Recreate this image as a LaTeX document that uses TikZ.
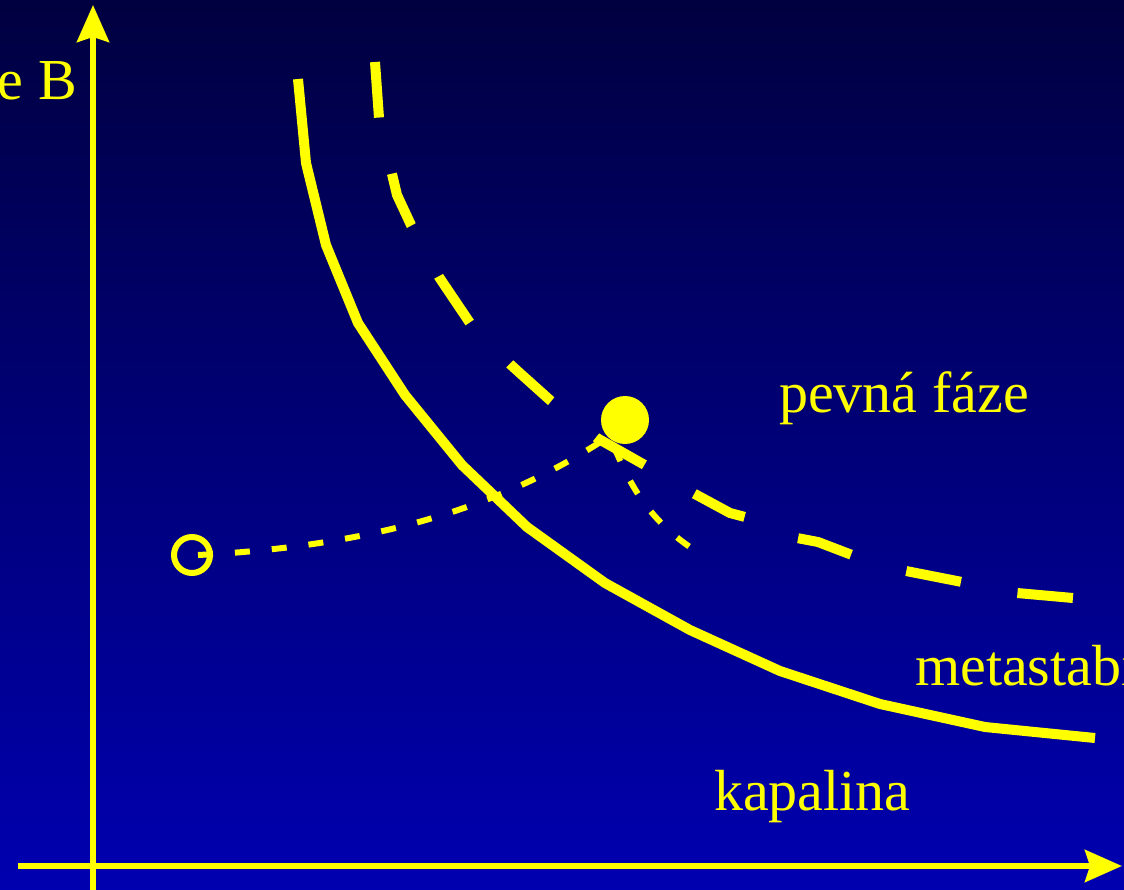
\documentclass[tikz,border=0pt]{standalone}
\usepackage{fontspec}
\setmainfont{Liberation Serif}
\usetikzlibrary{arrows.meta}
\definecolor{topblue}{RGB}{0,0,64}
\definecolor{botblue}{RGB}{0,0,176}
\definecolor{yel}{RGB}{255,255,0}
\begin{document}
\begin{tikzpicture}[x=1pt,y=-1pt,
  lbl/.style={text=yel,font=\fontsize{58}{68}\selectfont,inner sep=0pt},
  axisline/.style={draw=yel,line width=6pt,-{Stealth[length=37pt,width=32pt,inset=5pt]}},
  solidcurve/.style={draw=yel,line width=10pt},
  dashcurve/.style={draw=yel,line width=10pt,dash pattern=on 55.7pt off 57.6pt},
  dotcurve/.style={draw=yel,line width=6pt,dash pattern=on 15pt off 22pt}]
\useasboundingbox (0,0) rectangle (1124,890);
\clip (0,0) rectangle (1124,890);
\shade[top color=topblue,bottom color=botblue] (0,0) rectangle (1124,890);
% axes
\coordinate (yb) at (93,890);
\coordinate (yt) at (93,5);
\coordinate (xl) at (18,866);
\coordinate (xr) at (1122,866);
\draw[axisline] (yb) -- (yt);
\draw[axisline] (xl) -- (xr);
% labels
\node[lbl,anchor=base east] (lb) at (77,100) {e B};
\node[lbl,anchor=base west] (lp) at (779,412) {pevná fáze};
\node[lbl,anchor=base west] (lm) at (915,685) {metastabilní};
\node[lbl,anchor=base west] (lk) at (714,810) {kapalina};
% solid curve
\draw[solidcurve] (298,79) -- (306,163) -- (326,245) -- (358,323) -- (405,395) -- (462,465) -- (527,527) -- (605,583) -- (690,630) -- (780,671) -- (880,704) -- (985,727) -- (1095,738);
% dashed curve
\draw[dashcurve] (375,62) -- (379,118) -- (392,174) -- (397,195) -- (411,225) -- (439,277) -- (470,323) -- (511,365) -- (522,375) -- (551,401) -- (597,438) -- (643,464) -- (693,493) -- (730,513) -- (745,517) -- (797,538) -- (818,542) -- (852,555) -- (906,571) -- (962,582) -- (1017,593) -- (1073,598);
% points
\node[circle,draw=yel,line width=6pt,minimum size=36pt,inner sep=0pt] (start) at (192,555) {};
\node[circle,fill=yel,minimum size=48pt,inner sep=0pt] (dot) at (625,420) {};
\coordinate (d0) at (198,555);
\coordinate (d1) at (699,553);
\draw[dotcurve] (d0) .. controls (400,545) and (520,495) .. (dot.225) .. controls (622,455) and (630,510) .. (d1);
\end{tikzpicture}
\end{document}
